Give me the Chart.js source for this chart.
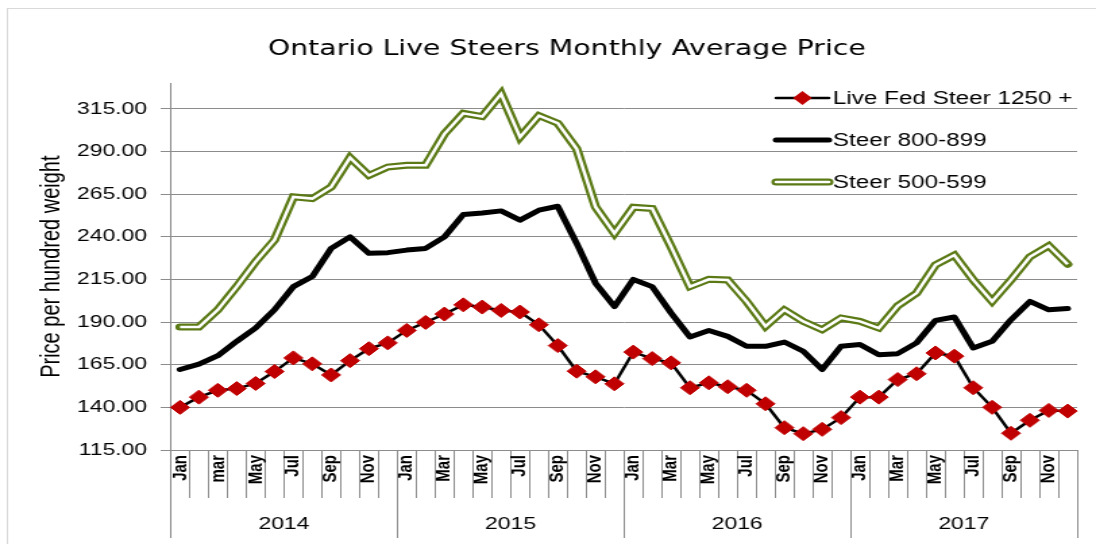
<!DOCTYPE html>
<html>
<head>
<meta charset="utf-8">
<script src="https://cdn.jsdelivr.net/npm/chart.js@4.4.1/dist/chart.umd.min.js"></script>
<style>
  html, body { margin: 0; padding: 0; background: #fff; overflow: hidden; }
</style>
</head>
<body>
<!-- drawn at 812 wide and stretched to 1096, like the source picture -->
<canvas id="myChart" width="812" height="544" style="width:1096px;height:544px"></canvas>
<script>
const years = ['2014', '2015', '2016', '2017'];

const monthTicks = [
  'Jan', '', 'mar', '', 'May', '', 'Jul', '', 'Sep', '', 'Nov', '',
  'Jan', '', 'Mar', '', 'May', '', 'Jul', '', 'Sep', '', 'Nov', '',
  'Jan', '', 'Mar', '', 'May', '', 'Jul', '', 'Sep', '', 'Nov', '',
  'Jan', '', 'Mar', '', 'May', '', 'Jul', '', 'Sep', '', 'Nov', ''
];

const priceTicks = [115, 140, 165, 190, 215, 240, 265, 290, 315];

const liveFed = [
  140, 146, 150, 151, 154, 161, 169, 165.5, 159, 167.4, 174.4, 177.8,
  185.1, 189.8, 194.7, 200.1, 198.8, 196.8, 195.9, 188.4, 176.2, 161.2, 157.9, 153.8,
  172.4, 168.6, 166.1, 151.5, 154.4, 152.1, 150, 142.1, 128.1, 124.6, 127.1, 134,
  146, 146, 156.3, 159.7, 171.9, 170, 151.5, 140, 124.8, 132.4, 138.2, 137.8
];

const steer800 = [
  162.2, 165.3, 170.3, 178.7, 186.5, 197.2, 210.8, 216.7, 233.2, 240, 230.3, 230.7,
  232.2, 233.2, 240, 253.1, 254, 255.2, 249.8, 255.6, 257.9, 236.2, 212.8, 199.1,
  215, 210.8, 195.3, 181.3, 185.1, 181.6, 175.8, 175.8, 178.3, 172.9, 162.2, 175.8,
  176.8, 170.9, 171.5, 177.8, 191, 193, 174.8, 178.7, 191.4, 202.1, 197.2, 198
];

const steer500 = [
  187.1, 187.1, 197.2, 210.8, 225.4, 238.1, 263.4, 262.4, 269.2, 286.4, 276, 280.9,
  281.9, 281.9, 300.4, 312.4, 310.5, 323.8, 298.4, 311.1, 306.6, 291.6, 257.5, 242,
  257.3, 256.6, 234.2, 210.8, 215.1, 214.7, 202.1, 187.5, 197.2, 190.4, 185.5, 192.4,
  190.4, 186.5, 199.5, 207, 223.5, 229.3, 214.7, 202.1, 214.7, 228.3, 234.8, 223.9
];

const seriesNames = ['Live Fed Steer 1250 +', 'Steer 800-899', 'Steer 500-599'];

const gridColor = '#8c8c8c';
const red = '#c00000';
const olive = '#5b7a15';
const labelFont = '"Liberation Sans", Arial, sans-serif';

// frame, year row and legend
const extras = {
  id: 'extras',
  beforeDraw(chart) {
    const ctx = chart.ctx;
    ctx.save();
    ctx.strokeStyle = '#d9d9d9';
    ctx.lineWidth = 1;
    ctx.strokeRect(5.5, 8.5, chart.width, chart.height);
    ctx.restore();
  },
  afterDraw(chart) {
    const { ctx, chartArea } = chart;
    const x = chart.scales.x;
    ctx.save();
    ctx.strokeStyle = gridColor;
    ctx.lineWidth = 1;
    ctx.fillStyle = '#000';
    ctx.font = '17px ' + labelFont;
    ctx.textAlign = 'center';
    ctx.textBaseline = 'middle';
    years.forEach((yr, k) => {
      const first = k * 12;
      const last = first + 11;
      const left = k === 0 ? chartArea.left : (x.getPixelForValue(first - 1) + x.getPixelForValue(first)) / 2;
      ctx.beginPath();
      ctx.moveTo(Math.round(left) + 0.5, chartArea.bottom);
      ctx.lineTo(Math.round(left) + 0.5, 538);
      ctx.stroke();
      ctx.fillText(yr, (x.getPixelForValue(first) + x.getPixelForValue(last)) / 2, 524);
    });
    ctx.beginPath();
    ctx.moveTo(Math.round(chartArea.right) + 0.5, chartArea.bottom);
    ctx.lineTo(Math.round(chartArea.right) + 0.5, 538);
    ctx.stroke();

    // legend
    const lx0 = 575, lx1 = 614, tx = 617;
    const rows = [98, 140, 182];
    ctx.lineCap = 'round';
    // live fed
    ctx.strokeStyle = '#000';
    ctx.lineWidth = 2.5;
    ctx.beginPath(); ctx.moveTo(lx0, rows[0]); ctx.lineTo(lx1, rows[0]); ctx.stroke();
    const cx = (lx0 + lx1) / 2, r = 7;
    ctx.fillStyle = red;
    ctx.beginPath();
    ctx.moveTo(cx, rows[0] - r); ctx.lineTo(cx + r, rows[0]);
    ctx.lineTo(cx, rows[0] + r); ctx.lineTo(cx - r, rows[0]);
    ctx.closePath(); ctx.fill();
    // 800-899
    ctx.lineWidth = 5;
    ctx.beginPath(); ctx.moveTo(lx0, rows[1]); ctx.lineTo(lx1, rows[1]); ctx.stroke();
    // 500-599
    ctx.strokeStyle = olive;
    ctx.lineWidth = 7;
    ctx.beginPath(); ctx.moveTo(lx0, rows[2]); ctx.lineTo(lx1, rows[2]); ctx.stroke();
    ctx.strokeStyle = '#fff';
    ctx.lineWidth = 2.5;
    ctx.beginPath(); ctx.moveTo(lx0, rows[2]); ctx.lineTo(lx1, rows[2]); ctx.stroke();

    ctx.fillStyle = '#000';
    ctx.font = '18px ' + labelFont;
    ctx.textAlign = 'left';
    seriesNames.forEach((name, i) => ctx.fillText(name, tx, rows[i] + 1));
    ctx.restore();
  }
};

const myChart = document.getElementById('myChart');

new Chart(myChart, {
  type: 'line',
  data: {
    labels: monthTicks,
    datasets: [
      {
        label: seriesNames[0],
        data: liveFed,
        borderColor: '#000',
        borderWidth: 2.5,
        pointStyle: 'rectRot',
        pointRadius: 7,
        pointBackgroundColor: red,
        pointBorderColor: red,
        pointBorderWidth: 1,
        order: 0
      },
      {
        label: seriesNames[1],
        data: steer800,
        borderColor: '#000',
        borderWidth: 5,
        borderJoinStyle: 'round',
        borderCapStyle: 'round',
        pointRadius: 0,
        order: 1
      },
      {
        label: 'inner',
        data: steer500,
        borderColor: '#fff',
        borderWidth: 2.5,
        pointRadius: 0,
        order: 2
      },
      {
        label: seriesNames[2],
        data: steer500,
        borderColor: olive,
        borderWidth: 7,
        borderCapStyle: 'round',
        pointRadius: 0,
        order: 3
      }
    ]
  },
  options: {
    responsive: false,
    devicePixelRatio: 1,
    animation: false,
    layout: { padding: { left: 42, right: 14, top: 0, bottom: 0 } },
    plugins: {
      legend: { display: false },
      tooltip: { enabled: false },
      title: {
        display: true,
        text: 'Ontario Live Steers Monthly Average Price',
        color: '#000',
        font: { family: '"DejaVu Sans", sans-serif', size: 21, weight: 'normal' },
        padding: { top: 37, bottom: 21.1 }
      }
    },
    scales: {
      x: {
        offset: true,
        grid: { drawOnChartArea: false, drawTicks: true, tickLength: 48, offset: true, color: gridColor },
        border: { display: true, color: gridColor },
        ticks: {
          autoSkip: false,
          maxRotation: 90,
          minRotation: 90,
          padding: -43,
          color: '#000',
          font: { family: labelFont, size: 15, weight: 'bold' }
        },
        afterFit: (scale) => { scale.height = 94; }
      },
      y: {
        min: 115,
        max: 330,
        afterBuildTicks: (scale) => { scale.ticks = priceTicks.map(v => ({ value: v })); },
        grid: { color: gridColor, tickLength: 7.4 },
        border: { display: true, color: gridColor },
        ticks: {
          padding: 10,
          color: '#000',
          font: { family: labelFont, size: 17 },
          callback: (v) => Number(v).toFixed(2)
        },
        title: {
          display: true,
          text: 'Price per hundred weight',
          color: '#000',
          font: { family: labelFont, size: 20 },
          padding: { top: -15.5, bottom: 0 }
        },
        afterFit: (scale) => { scale.width = 84.4; }
      }
    }
  },
  plugins: [extras]
});
</script>
</body>
</html>
